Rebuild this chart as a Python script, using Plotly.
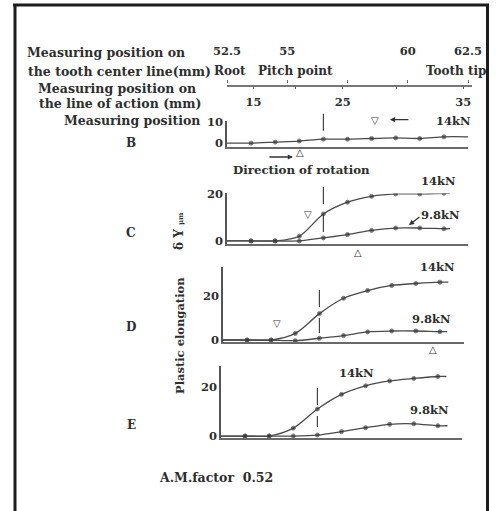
import plotly.graph_objects as go

W, H = 496, 511

# ---------------- data ----------------
positions = [53.5, 54.5, 55.5, 56.5, 57.5, 58.5, 59.5, 60.5, 61.5]   # tooth center line (mm)
B_14 = [0, 0.5, 1.0, 1.9, 1.9, 2.2, 2.5, 2.2, 3.0]
C_14 = [0, 0, 2.0, 11.5, 16.5, 19.0, 20.0, 20.0, 20.3]
C_98 = [0, 0, 0, 1.3, 2.7, 4.5, 5.5, 5.5, 5.2]
D_14 = [0, 0, 3.0, 12.0, 19.0, 22.5, 24.8, 25.7, 26.3]
D_98 = [0, 0, -0.3, 0.8, 2.0, 3.7, 4.1, 4.1, 3.8]
E_14 = [0, 0, 3.2, 11.0, 17.0, 20.5, 22.5, 23.5, 24.3]
E_98 = [0, 0, 0, 0.4, 1.8, 3.4, 4.8, 5.0, 4.2]

center_ticks = [52.5, 55, 57.5, 60, 62.5]
center_labels = ["52.5", "55", "", "60", "62.5"]
loa_values = [15, 20, 25, 30, 35]
loa_pos = [53.6, 55.35, 57.3, 59.55, 62.3]       # where they sit on the center-line scale
loa_labels = ["15", "", "25", "", "35"]
pitch_point = 56.5

# triangles marking positions (down = ▽, up = △)
B_tri_down, B_tri_up = (58.64, 10.8), (55.53, -4.7)
C_tri_down, C_tri_up = (55.86, 11.1), (57.94, -5.1)
D_tri_down, D_tri_up = (54.74, 7.7), (61.21, -4.1)

FONT = "DejaVu Serif"
TXT = "#2e2e2e"
LINE = "#4a4a4a"


def fx(px):
    return px / W


def fy(py):
    return 1 - py / H


fig = go.Figure()

panels = {
    "B": dict(L=227, base=146.7, r=[-1.7, 10.5], ppu=2.1, ticks=[0, 10]),
    "C": dict(L=227, base=244.0, r=[-1.3, 20.2], ppu=2.35, ticks=[0, 20]),
    "D": dict(L=223, base=342.0, r=[-0.9, 33.0], ppu=2.2, ticks=[0, 20]),
    "E": dict(L=221, base=438.0, r=[-0.8, 28.5], ppu=2.45, ticks=[0, 20]),
}
XPX = 24.1  # px per mm
keys = ["B", "C", "D", "E"]


def to_paper(k, x, y):
    p = panels[k]
    px = p["L"] + (x - 52.5) * XPX
    py = p["base"] - (y - p["r"][0]) * p["ppu"]
    return fx(px), fy(py)


layout = {}
for i, k in enumerate(keys):
    p = panels[k]
    sfx = "" if i == 0 else str(i + 1)
    top = p["base"] - (p["r"][1] - p["r"][0]) * p["ppu"]
    layout["xaxis" + sfx] = dict(
        domain=[fx(p["L"]), fx(p["L"] + 10 * XPX)], range=[52.5, 62.5],
        anchor="y" + sfx, showline=True, linecolor="#6a6a6a", linewidth=1.6,
        showticklabels=False, ticks="", showgrid=False, zeroline=False)
    layout["yaxis" + sfx] = dict(
        domain=[fy(p["base"]), fy(top)], range=p["r"], anchor="x" + sfx,
        showline=True, linecolor="#555", linewidth=1.5, ticks="",
        tickvals=p["ticks"], showgrid=False, zeroline=False,
        tickfont=dict(family=FONT, size=11.5, color=TXT, weight="bold"))


def curve(xref, yref, vals, end_x):
    xs = [52.5] + positions + [end_x]
    ys = [0] + vals + [vals[-1]]
    sizes = [0] + [4] * len(positions) + [0]
    fig.add_trace(go.Scatter(
        x=xs, y=ys, xaxis=xref, yaxis=yref, mode="lines+markers",
        line=dict(color=LINE, width=1.3, shape="spline", smoothing=0.8),
        marker=dict(size=sizes, color="#333"), showlegend=False, hoverinfo="skip"))


curve("x", "y", B_14, 62.5)
curve("x2", "y2", C_98, 61.75)
curve("x2", "y2", C_14, 61.75)
curve("x3", "y3", D_98, 61.8)
curve("x3", "y3", D_14, 61.85)
curve("x4", "y4", E_98, 61.9)
curve("x4", "y4", E_14, 61.85)

# top scale axes
layout["xaxis5"] = dict(
    domain=[fx(227), fx(472)], range=[52.5, 62.5 + 4 / XPX], anchor="y5",
    showline=True, linecolor="#777", linewidth=1.6, ticks="outside", ticklen=3,
    tickcolor="#666", tickvals=loa_pos, ticktext=loa_labels, showgrid=False,
    zeroline=False, ticklabelstandoff=3,
    tickfont=dict(family=FONT, size=11.5, color=TXT, weight="bold"))
layout["xaxis6"] = dict(
    domain=[fx(227), fx(472)], range=[52.5, 62.5 + 4 / XPX], anchor="y5",
    overlaying="x5", side="top", showline=False, ticks="outside", ticklen=3,
    tickcolor="#666", tickvals=center_ticks, ticktext=center_labels, showgrid=False,
    zeroline=False, ticklabelstandoff=20,
    tickfont=dict(family=FONT, size=11.5, color=TXT, weight="bold"))
layout["yaxis5"] = dict(domain=[fy(84.5), fy(83.5)], range=[0, 1], visible=False, anchor="x5")
fig.add_trace(go.Scatter(x=[52.5], y=[0.5], xaxis="x5", yaxis="y5", mode="markers",
                         marker=dict(size=1, opacity=0), showlegend=False, hoverinfo="skip"))
fig.add_trace(go.Scatter(x=[52.5], y=[0.5], xaxis="x6", yaxis="y5", mode="markers",
                         marker=dict(size=1, opacity=0), showlegend=False, hoverinfo="skip"))

# dashed pitch-point lines
dash_spans = {"B": (14.0, 2.2), "C": (23.0, 3.8), "D": (22.7, 3.2), "E": (19.6, 3.7)}
shapes = []
for k in keys:
    a, b = dash_spans[k]
    x0, y0 = to_paper(k, pitch_point, a)
    _, y1 = to_paper(k, pitch_point, b)
    shapes.append(dict(
        type="line", xref="paper", yref="paper", x0=x0, x1=x0, y0=y0, y1=y1,
        line=dict(color="#444", width=1.2, dash="17px,11px")))

# frame
for s in [dict(x0=fx(13), x1=fx(489), y0=fy(5), y1=fy(5)),
          dict(x0=fx(15), x1=fx(15), y0=fy(4), y1=fy(515)),
          dict(x0=fx(487.5), x1=fx(487.5), y0=fy(4), y1=fy(515))]:
    shapes.append(dict(type="line", xref="paper", yref="paper",
                       line=dict(color="#1c1c1c", width=3), **s))

ann = []


def txt(text, cx, cy, size=12.5, angle=0, xa="center"):
    ann.append(dict(text=text, x=fx(cx), y=fy(cy), xref="paper", yref="paper",
                    xanchor=xa, yanchor="middle", showarrow=False, textangle=angle,
                    font=dict(family=FONT, size=size, color=TXT, weight="bold")))


txt("Measuring position on", 106, 53)
txt("the tooth center line(mm)", 119, 71)
txt("Measuring position on", 117, 88)
txt("the line of action (mm)", 120, 103)
txt("Measuring position", 132, 120)
txt("Root", 230, 71, size=12)
txt("Pitch point", 295, 71, size=12)
txt("Tooth tip", 489, 71, size=12, xa="right")
txt("B", 131, 143, size=12)
txt("C", 131, 233, size=12)
txt("D", 131, 327, size=12)
txt("E", 131, 425, size=12)
txt("Direction of rotation", 301, 170, size=11.8)
txt("A.M.factor  0.52", 216, 477)
txt("δ Y <span style='font-size:7px'>μm</span>", 179, 231, size=12, angle=-90)
txt("Plastic elongation", 180, 336, size=11.5, angle=-90)


def lab(text, k, x, y, size=11.5, family=FONT, color=TXT, weight="bold"):
    px, py = to_paper(k, x, y)
    ann.append(dict(text=text, x=px, y=py, xref="paper", yref="paper", showarrow=False,
                    xanchor="center", yanchor="middle",
                    font=dict(family=family, size=size, color=color, weight=weight)))


lab("14kN", "B", 61.88, 10.3)
lab("14kN", "C", 61.26, 25.5)
lab("9.8kN", "C", 61.34, 11.0)
lab("14kN", "D", 61.42, 33.2)
lab("9.8kN", "D", 61.17, 9.5)
lab("14kN", "E", 58.14, 25.7)
lab("9.8kN", "E", 61.17, 10.6)

for k, pt, ch in [("B", B_tri_down, "▽"), ("B", B_tri_up, "△"),
                  ("C", C_tri_down, "▽"), ("C", C_tri_up, "△"),
                  ("D", D_tri_down, "▽"), ("D", D_tri_up, "△")]:
    lab(ch, k, pt[0], pt[1], size=10, family="DejaVu Sans", color="#333", weight="normal")


def arrow(k, x, y, ax, ay):
    px, py = to_paper(k, x, y)
    ann.append(dict(text="", x=px, y=py, xref="paper", yref="paper", showarrow=True,
                    ax=ax, ay=ay, arrowhead=2, arrowsize=0.8, arrowwidth=1.3,
                    arrowcolor="#333"))


arrow("B", 59.26, 11.2, 20, 0)
arrow("C", 60.05, 6.8, 12, -9)
ann.append(dict(text="", x=fx(293), y=fy(157), xref="paper", yref="paper", showarrow=True,
                ax=-25, ay=0, arrowhead=2, arrowsize=0.8, arrowwidth=1.3, arrowcolor="#333"))

fig.update_layout(
    width=W, height=H, margin=dict(l=0, r=0, t=0, b=0, pad=0, autoexpand=False),
    paper_bgcolor="white", plot_bgcolor="rgba(0,0,0,0)",
    showlegend=False, shapes=shapes, annotations=ann, **layout)

fig.write_html("out.html", config=dict(displayModeBar=False))
